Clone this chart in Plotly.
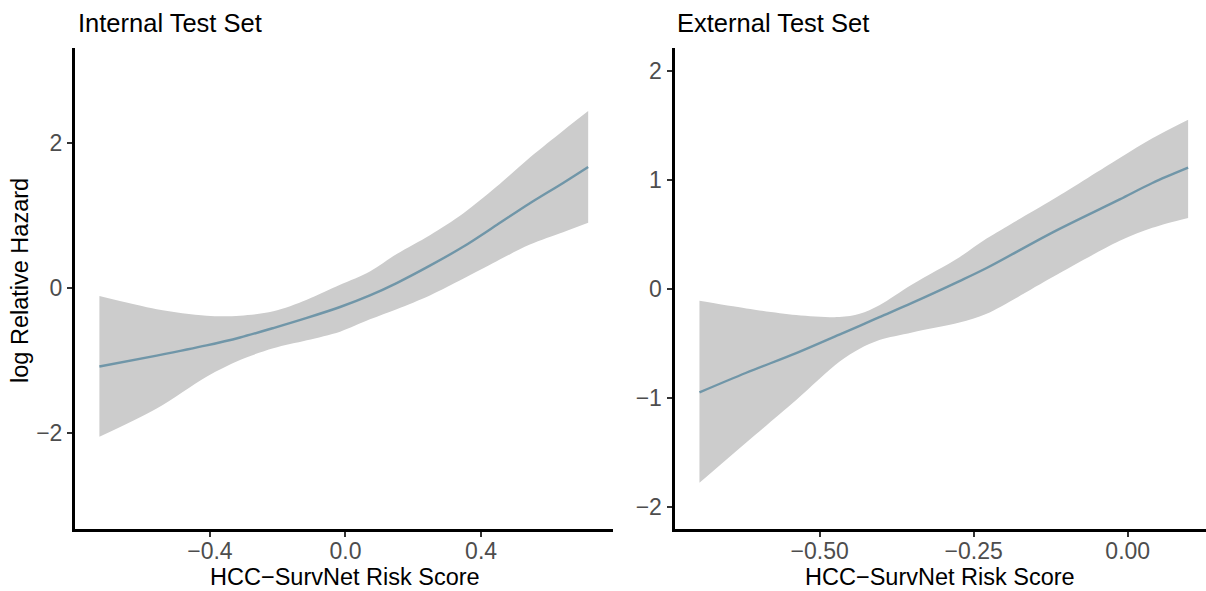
import plotly.graph_objects as go

# ---- data ----
x_int = [-0.726, -0.557, -0.41, -0.311, -0.213, -0.114, -0.016, 0.072, 0.151, 0.249, 0.347, 0.446, 0.544, 0.642, 0.716]
fit_int = [-1.08, -0.93, -0.79, -0.68, -0.55, -0.41, -0.26, -0.10, 0.07, 0.31, 0.57, 0.87, 1.17, 1.45, 1.67]
lo_int = [-2.05, -1.66, -1.22, -0.99, -0.83, -0.72, -0.60, -0.43, -0.29, -0.10, 0.13, 0.37, 0.60, 0.77, 0.90]
up_int = [-0.11, -0.29, -0.38, -0.38, -0.32, -0.16, 0.045, 0.23, 0.47, 0.73, 1.03, 1.40, 1.80, 2.17, 2.44]

x_ext = [-0.695, -0.619, -0.538, -0.468, -0.435, -0.403, -0.35, -0.273, -0.229, -0.121, -0.013, 0.04, 0.098]
fit_ext = [-0.95, -0.77, -0.59, -0.42, -0.34, -0.26, -0.13, 0.07, 0.19, 0.52, 0.82, 0.97, 1.11]
lo_ext = [-1.78, -1.41, -1.02, -0.67, -0.55, -0.47, -0.40, -0.31, -0.23, 0.11, 0.44, 0.56, 0.65]
up_ext = [-0.11, -0.18, -0.24, -0.26, -0.23, -0.15, 0.04, 0.29, 0.46, 0.82, 1.20, 1.38, 1.55]

titles = ["Internal Test Set", "External Test Set"]
x_title = "HCC\u2212SurvNet Risk Score"
y_title = "log Relative Hazard"
int_xticks = [-0.4, 0.0, 0.4]
int_xticklabels = ["\u22120.4", "0.0", "0.4"]
int_yticks = [-2, 0, 2]
int_yticklabels = ["\u22122", "0", "2"]
ext_xticks = [-0.5, -0.25, 0.0]
ext_xticklabels = ["\u22120.50", "\u22120.25", "0.00"]
ext_yticks = [-2, -1, 0, 1, 2]
ext_yticklabels = ["\u22122", "\u22121", "0", "1", "2"]

W, H = 1206, 591
FONT = "Arial, 'Liberation Sans', sans-serif"
BAND = "#CCCCCC"
LINE = "#7096A8"

fig = go.Figure()

def add_panel(xs, fit, lo, up, xa, ya):
    fig.add_trace(go.Scatter(x=xs, y=up, mode="lines", line=dict(width=0, color=BAND, shape="spline", smoothing=0.9),
                             xaxis=xa, yaxis=ya, showlegend=False, hoverinfo="skip"))
    fig.add_trace(go.Scatter(x=xs, y=lo, mode="lines", line=dict(width=0, color=BAND, shape="spline", smoothing=0.9),
                             fill="tonexty", fillcolor=BAND, xaxis=xa, yaxis=ya, showlegend=False, hoverinfo="skip"))
    fig.add_trace(go.Scatter(x=xs, y=fit, mode="lines", line=dict(width=2.4, color=LINE, shape="spline", smoothing=0.9),
                             xaxis=xa, yaxis=ya, showlegend=False))

add_panel(x_int, fit_int, lo_int, up_int, "x", "y")
add_panel(x_ext, fit_ext, lo_ext, up_ext, "x2", "y2")

top_px, bot_px = 48, 529.5
plot_h = bot_px - top_px

def axis_common():
    return dict(showline=True, linecolor="black", linewidth=3, ticks="outside", ticklen=5, tickwidth=2,
                tickcolor="#333333", showgrid=False, zeroline=False,
                tickfont=dict(family=FONT, size=23, color="#4D4D4D"))

fig.update_layout(
    width=W, height=H, paper_bgcolor="white", plot_bgcolor="white",
    margin=dict(l=0, r=0, t=top_px, b=H - bot_px),
    xaxis=dict(domain=[75 / W, 612.6 / W], range=[-0.798, 0.788], tickvals=int_xticks, ticktext=int_xticklabels,
               anchor="y", ticklabelstandoff=-6, **axis_common()),
    yaxis=dict(domain=[0, 1], range=[-3.32, 3.31], tickvals=int_yticks, ticktext=int_yticklabels,
               anchor="x", **axis_common()),
    xaxis2=dict(domain=[674.5 / W, 1.0], range=[-0.7355, 0.127], tickvals=ext_xticks, ticktext=ext_xticklabels,
                anchor="y2", ticklabelstandoff=-6, **axis_common()),
    yaxis2=dict(domain=[0, 1], range=[-2.203, 2.208], tickvals=ext_yticks, ticktext=ext_yticklabels,
                anchor="x2", **axis_common()),
)

def py(p):
    return (bot_px - p) / plot_h

ann = []
ann.append(dict(text=titles[0], x=76 / W, y=py(22.8), xref="paper", yref="paper", xanchor="left", yanchor="middle",
                showarrow=False, font=dict(family=FONT, size=25.5, color="black")))
ann.append(dict(text=titles[1], x=675 / W, y=py(22.8), xref="paper", yref="paper", xanchor="left", yanchor="middle",
                showarrow=False, font=dict(family=FONT, size=25.5, color="black")))
ann.append(dict(text=x_title, x=345 / W, y=py(578), xref="paper", yref="paper", xanchor="center", yanchor="middle",
                showarrow=False, font=dict(family=FONT, size=23.5, color="black")))
ann.append(dict(text=x_title, x=(674.5 + 1206) / 2 / W, y=py(578), xref="paper", yref="paper", xanchor="center",
                yanchor="middle", showarrow=False, font=dict(family=FONT, size=23.5, color="black")))
ann.append(dict(text=y_title, x=20.5 / W, y=py(280.7), xref="paper", yref="paper", xanchor="center", yanchor="middle",
                textangle=-90, showarrow=False, font=dict(family=FONT, size=23.5, color="black")))
fig.update_layout(annotations=ann)

fig.write_html("out.html", config={"displayModeBar": False},
               post_script="document.body.style.margin='0';document.body.style.overflow='hidden';")
